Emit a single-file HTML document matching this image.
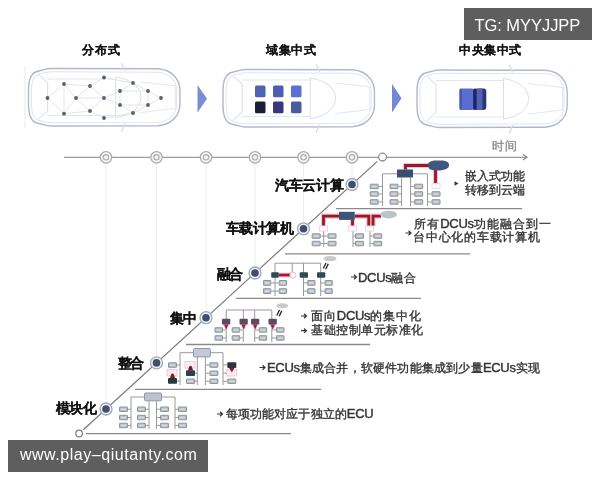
<!DOCTYPE html><html><head><meta charset="utf-8"><style>
html,body{margin:0;padding:0;background:#fff;width:600px;height:480px;overflow:hidden;font-family:"Liberation Sans",sans-serif;}
.t{position:absolute;white-space:nowrap;line-height:1;color:#2a2a2a;-webkit-text-stroke:0.35px currentColor;}
.b{font-weight:bold;color:#111;-webkit-text-stroke:0.1px currentColor;}
.w{-webkit-text-stroke:0;}
.lat{font-size:13px;-webkit-text-stroke:0.4px currentColor;letter-spacing:-0.3px;}
#wrap{position:absolute;left:0;top:0;width:600px;height:480px;filter:blur(0.6px);}
</style></head><body><div id="wrap">
<svg width="600" height="480" viewBox="0 0 600 480" style="position:absolute;left:0;top:0">
<line x1="25" y1="66" x2="25" y2="128" stroke="#ededed" stroke-width="1.2"/>
<g transform="translate(28,68) scale(1.0083,1)" fill="none" stroke-linecap="round">
<path d="M0.5,22 C0.5,12 3,6 7.5,4 C10,3 12,2.5 14.5,2 C18,1 19.5,0.5 23,0.5 L129,0.8 C137,1.5 142,4 146,9 C149.5,13 150.7,17 150.7,23 L150.7,35.5 C150.7,41.5 149.5,45.5 146,49.5 C142,54.5 137,57 129,57.7 L23,58 C19.5,58 18,57.5 14.5,56.5 C12,56 10,55.5 7.5,54.5 C3,52.5 0.5,46.5 0.5,36.5 Z" stroke="#b3b7cc" stroke-width="1.4"/>
<path d="M3.5,22 C3.5,13 6,8 10,6.5 C14,5 18,3.8 23,3.8 L129,4.2 C136,4.8 140,7 143.5,11 C146.5,14.5 147.5,18 147.5,23 L147.5,35.5 C147.5,40.5 146.5,44 143.5,47.5 C140,51.5 136,53.8 129,54.4 L23,54.8 C18,54.8 14,53.5 10,52 C6,50.5 3.5,45.5 3.5,36.5 Z" stroke="#e2e4ec" stroke-width="1"/>
<path d="M10.5,7 L19.5,15 L19.5,43 L10.5,51" stroke="#d9dce6" stroke-width="1"/>
<path d="M19.5,11 L87,11 M19.5,47.5 L87,47.5" stroke="#e4e6ee" stroke-width="1"/>
<path d="M87,9 C105,11.5 112,21 112,29.2 C112,37.5 105,47 87,49.5 M87,9 L87,49.5" stroke="#dcdfe8" stroke-width="1"/>
<path d="M112,14 L146,18 M112,44.5 L146,40.5 M146,18 L146,40.5" stroke="#e4e6ee" stroke-width="1"/>
<path d="M93,-4.5 L96,2.5 M93,63.5 L96,56" stroke="#d3dae8" stroke-width="1.2"/>
</g>
<g transform="translate(222.5,69) scale(1.0083,1)" fill="none" stroke-linecap="round">
<path d="M0.5,22 C0.5,12 3,6 7.5,4 C10,3 12,2.5 14.5,2 C18,1 19.5,0.5 23,0.5 L129,0.8 C137,1.5 142,4 146,9 C149.5,13 150.7,17 150.7,23 L150.7,35.5 C150.7,41.5 149.5,45.5 146,49.5 C142,54.5 137,57 129,57.7 L23,58 C19.5,58 18,57.5 14.5,56.5 C12,56 10,55.5 7.5,54.5 C3,52.5 0.5,46.5 0.5,36.5 Z" stroke="#b3b7cc" stroke-width="1.4"/>
<path d="M3.5,22 C3.5,13 6,8 10,6.5 C14,5 18,3.8 23,3.8 L129,4.2 C136,4.8 140,7 143.5,11 C146.5,14.5 147.5,18 147.5,23 L147.5,35.5 C147.5,40.5 146.5,44 143.5,47.5 C140,51.5 136,53.8 129,54.4 L23,54.8 C18,54.8 14,53.5 10,52 C6,50.5 3.5,45.5 3.5,36.5 Z" stroke="#e2e4ec" stroke-width="1"/>
<path d="M10.5,7 L19.5,15 L19.5,43 L10.5,51" stroke="#d9dce6" stroke-width="1"/>
<path d="M19.5,11 L87,11 M19.5,47.5 L87,47.5" stroke="#e4e6ee" stroke-width="1"/>
<path d="M87,9 C105,11.5 112,21 112,29.2 C112,37.5 105,47 87,49.5 M87,9 L87,49.5" stroke="#dcdfe8" stroke-width="1"/>
<path d="M112,14 L146,18 M112,44.5 L146,40.5 M146,18 L146,40.5" stroke="#e4e6ee" stroke-width="1"/>
<path d="M93,-4.5 L96,2.5 M93,63.5 L96,56" stroke="#d3dae8" stroke-width="1.2"/>
</g>
<g transform="translate(416.5,69.5) scale(1.0,1)" fill="none" stroke-linecap="round">
<path d="M0.5,22 C0.5,12 3,6 7.5,4 C10,3 12,2.5 14.5,2 C18,1 19.5,0.5 23,0.5 L129,0.8 C137,1.5 142,4 146,9 C149.5,13 150.7,17 150.7,23 L150.7,35.5 C150.7,41.5 149.5,45.5 146,49.5 C142,54.5 137,57 129,57.7 L23,58 C19.5,58 18,57.5 14.5,56.5 C12,56 10,55.5 7.5,54.5 C3,52.5 0.5,46.5 0.5,36.5 Z" stroke="#b3b7cc" stroke-width="1.4"/>
<path d="M3.5,22 C3.5,13 6,8 10,6.5 C14,5 18,3.8 23,3.8 L129,4.2 C136,4.8 140,7 143.5,11 C146.5,14.5 147.5,18 147.5,23 L147.5,35.5 C147.5,40.5 146.5,44 143.5,47.5 C140,51.5 136,53.8 129,54.4 L23,54.8 C18,54.8 14,53.5 10,52 C6,50.5 3.5,45.5 3.5,36.5 Z" stroke="#e2e4ec" stroke-width="1"/>
<path d="M10.5,7 L19.5,15 L19.5,43 L10.5,51" stroke="#d9dce6" stroke-width="1"/>
<path d="M19.5,11 L87,11 M19.5,47.5 L87,47.5" stroke="#e4e6ee" stroke-width="1"/>
<path d="M87,9 C105,11.5 112,21 112,29.2 C112,37.5 105,47 87,49.5 M87,9 L87,49.5" stroke="#dcdfe8" stroke-width="1"/>
<path d="M112,14 L146,18 M112,44.5 L146,40.5 M146,18 L146,40.5" stroke="#e4e6ee" stroke-width="1"/>
<path d="M93,-4.5 L96,2.5 M93,63.5 L96,56" stroke="#d3dae8" stroke-width="1.2"/>
</g>
<line x1="47.5" y1="98" x2="64" y2="84" stroke="#dfe1e8" stroke-width="0.9"/>
<line x1="47.5" y1="98" x2="64" y2="113.7" stroke="#dfe1e8" stroke-width="0.9"/>
<line x1="64" y1="84" x2="64" y2="113.7" stroke="#dfe1e8" stroke-width="0.9"/>
<line x1="64" y1="84" x2="76" y2="98" stroke="#dfe1e8" stroke-width="0.9"/>
<line x1="64" y1="113.7" x2="76" y2="98" stroke="#dfe1e8" stroke-width="0.9"/>
<line x1="64" y1="84" x2="90" y2="86" stroke="#dfe1e8" stroke-width="0.9"/>
<line x1="76" y1="98" x2="90" y2="86" stroke="#dfe1e8" stroke-width="0.9"/>
<line x1="76" y1="98" x2="90" y2="111" stroke="#dfe1e8" stroke-width="0.9"/>
<line x1="64" y1="113.7" x2="90" y2="111" stroke="#dfe1e8" stroke-width="0.9"/>
<line x1="90" y1="86" x2="104" y2="98" stroke="#dfe1e8" stroke-width="0.9"/>
<line x1="90" y1="111" x2="104" y2="98" stroke="#dfe1e8" stroke-width="0.9"/>
<line x1="90" y1="86" x2="104" y2="77.5" stroke="#dfe1e8" stroke-width="0.9"/>
<line x1="90" y1="111" x2="104" y2="118" stroke="#dfe1e8" stroke-width="0.9"/>
<line x1="76" y1="98" x2="104" y2="98" stroke="#dfe1e8" stroke-width="0.9"/>
<line x1="104" y1="77.5" x2="133" y2="83" stroke="#dfe1e8" stroke-width="0.9"/>
<line x1="104" y1="118" x2="133" y2="113" stroke="#dfe1e8" stroke-width="0.9"/>
<line x1="104" y1="98" x2="120" y2="91" stroke="#dfe1e8" stroke-width="0.9"/>
<line x1="104" y1="98" x2="120" y2="105" stroke="#dfe1e8" stroke-width="0.9"/>
<line x1="120" y1="91" x2="133" y2="83" stroke="#dfe1e8" stroke-width="0.9"/>
<line x1="120" y1="105" x2="133" y2="113" stroke="#dfe1e8" stroke-width="0.9"/>
<line x1="133" y1="83" x2="148" y2="91" stroke="#dfe1e8" stroke-width="0.9"/>
<line x1="133" y1="113" x2="148" y2="105" stroke="#dfe1e8" stroke-width="0.9"/>
<line x1="148" y1="91" x2="161" y2="98" stroke="#dfe1e8" stroke-width="0.9"/>
<line x1="148" y1="105" x2="161" y2="98" stroke="#dfe1e8" stroke-width="0.9"/>
<line x1="120" y1="91" x2="148" y2="91" stroke="#dfe1e8" stroke-width="0.9"/>
<line x1="120" y1="105" x2="148" y2="105" stroke="#dfe1e8" stroke-width="0.9"/>
<line x1="120" y1="91" x2="120" y2="105" stroke="#dfe1e8" stroke-width="0.9"/>
<line x1="148" y1="91" x2="148" y2="105" stroke="#dfe1e8" stroke-width="0.9"/>
<circle cx="47.5" cy="98" r="1.9" fill="#5a5d6e"/>
<circle cx="64" cy="84" r="1.9" fill="#5a5d6e"/>
<circle cx="64" cy="113.7" r="1.9" fill="#5a5d6e"/>
<circle cx="76" cy="98" r="1.9" fill="#5a5d6e"/>
<circle cx="90" cy="86" r="1.9" fill="#5a5d6e"/>
<circle cx="90" cy="111" r="1.9" fill="#5a5d6e"/>
<circle cx="104" cy="77.5" r="1.9" fill="#5a5d6e"/>
<circle cx="104" cy="98" r="1.9" fill="#5a5d6e"/>
<circle cx="104" cy="118" r="1.9" fill="#5a5d6e"/>
<circle cx="120" cy="91" r="1.9" fill="#5a5d6e"/>
<circle cx="120" cy="105" r="1.9" fill="#5a5d6e"/>
<circle cx="133" cy="83" r="1.9" fill="#5a5d6e"/>
<circle cx="133" cy="113" r="1.9" fill="#5a5d6e"/>
<circle cx="148" cy="91" r="1.9" fill="#5a5d6e"/>
<circle cx="148" cy="105" r="1.9" fill="#5a5d6e"/>
<circle cx="161" cy="98" r="1.9" fill="#5a5d6e"/>
<rect x="255" y="85.6" width="10.5" height="11.7" rx="1.5" fill="#4f63b4"/>
<rect x="273" y="85.6" width="10.5" height="11.7" rx="1.5" fill="#4b5db6"/>
<rect x="291" y="85.6" width="10.5" height="11.7" rx="1.5" fill="#5a70d4"/>
<rect x="255" y="101.5" width="10.5" height="11.7" rx="1.5" fill="#1c1e34"/>
<rect x="273" y="101.5" width="10.5" height="11.7" rx="1.5" fill="#38377e"/>
<rect x="291" y="101.5" width="10.5" height="11.7" rx="1.5" fill="#4a5aa2"/>
<rect x="459.5" y="88.5" width="15" height="21.5" rx="3" fill="#5a6dd0"/>
<rect x="459.5" y="88.5" width="2.5" height="21.5" rx="1.2" fill="#4658b8"/>
<rect x="476" y="88.5" width="10.3" height="21.5" rx="3" fill="#2c3678"/>
<rect x="476" y="88.5" width="6.5" height="21.5" fill="#5262b2"/>
<rect x="473.2" y="88.5" width="3.4" height="21.5" rx="1.5" fill="#1c2262"/>
<path d="M197.5,85 L207,98.7 L197.5,112.5 Z" fill="#7a8ed8"/>
<path d="M392,84 L401.5,98.3 L392,112.5 Z" fill="#7489d6"/>
<line x1="64" y1="157.3" x2="526" y2="157.3" stroke="#9a9a9a" stroke-width="1.2"/>
<path d="M523,154.6 L527,157.3 L523,160" fill="none" stroke="#888" stroke-width="1.2"/>
<line x1="106" y1="163" x2="106" y2="402.0" stroke="#ededed" stroke-width="1"/>
<line x1="156.5" y1="163" x2="156.5" y2="355.9" stroke="#ededed" stroke-width="1"/>
<line x1="206" y1="163" x2="206" y2="310.7" stroke="#ededed" stroke-width="1"/>
<line x1="255" y1="163" x2="255" y2="266.0" stroke="#ededed" stroke-width="1"/>
<line x1="303.5" y1="163" x2="303.5" y2="221.8" stroke="#ededed" stroke-width="1"/>
<line x1="352" y1="163" x2="352" y2="177.5" stroke="#ededed" stroke-width="1"/>
<circle cx="106" cy="157.3" r="5.7" fill="#f6f6f6" stroke="#ababab" stroke-width="1.25"/>
<circle cx="106" cy="157.3" r="2.7" fill="#f2f2f2" stroke="#acacac" stroke-width="1.15"/>
<circle cx="156.5" cy="157.3" r="5.7" fill="#f6f6f6" stroke="#ababab" stroke-width="1.25"/>
<circle cx="156.5" cy="157.3" r="2.7" fill="#f2f2f2" stroke="#acacac" stroke-width="1.15"/>
<circle cx="206" cy="157.3" r="5.7" fill="#f6f6f6" stroke="#ababab" stroke-width="1.25"/>
<circle cx="206" cy="157.3" r="2.7" fill="#f2f2f2" stroke="#acacac" stroke-width="1.15"/>
<circle cx="255" cy="157.3" r="5.7" fill="#f6f6f6" stroke="#ababab" stroke-width="1.25"/>
<circle cx="255" cy="157.3" r="2.7" fill="#f2f2f2" stroke="#acacac" stroke-width="1.15"/>
<circle cx="303.5" cy="157.3" r="5.7" fill="#f6f6f6" stroke="#ababab" stroke-width="1.25"/>
<circle cx="303.5" cy="157.3" r="2.7" fill="#f2f2f2" stroke="#acacac" stroke-width="1.15"/>
<circle cx="352" cy="157.3" r="5.7" fill="#f6f6f6" stroke="#ababab" stroke-width="1.25"/>
<circle cx="352" cy="157.3" r="2.7" fill="#f2f2f2" stroke="#acacac" stroke-width="1.15"/>
<line x1="83.3" y1="429.72" x2="377.3" y2="161.41" stroke="#7a7a7a" stroke-width="1.2"/>
<circle cx="382.5" cy="157.1" r="3.9" fill="#fff" stroke="#8a8a8a" stroke-width="1.3"/>
<circle cx="79.1" cy="433.5" r="3.3" fill="#fff" stroke="#808080" stroke-width="1.3"/>
<circle cx="106" cy="409.0" r="6.0" fill="#eef1f6" stroke="#a2aaba" stroke-width="1.3"/>
<circle cx="106" cy="409.0" r="3.8" fill="#434e6c"/>
<circle cx="156.5" cy="362.9" r="6.0" fill="#eef1f6" stroke="#a2aaba" stroke-width="1.3"/>
<circle cx="156.5" cy="362.9" r="3.8" fill="#434e6c"/>
<circle cx="206" cy="317.7" r="6.0" fill="#eef1f6" stroke="#a2aaba" stroke-width="1.3"/>
<circle cx="206" cy="317.7" r="3.8" fill="#434e6c"/>
<circle cx="255" cy="273.0" r="6.0" fill="#eef1f6" stroke="#a2aaba" stroke-width="1.3"/>
<circle cx="255" cy="273.0" r="3.8" fill="#434e6c"/>
<circle cx="303.5" cy="228.8" r="6.0" fill="#eef1f6" stroke="#a2aaba" stroke-width="1.3"/>
<circle cx="303.5" cy="228.8" r="3.8" fill="#434e6c"/>
<circle cx="352" cy="184.5" r="6.0" fill="#eef1f6" stroke="#a2aaba" stroke-width="1.3"/>
<circle cx="352" cy="184.5" r="3.8" fill="#434e6c"/>
<line x1="336" y1="208.6" x2="522" y2="208.6" stroke="#8a8a8a" stroke-width="1.3"/>
<line x1="285" y1="253.8" x2="470" y2="253.8" stroke="#8a8a8a" stroke-width="1.3"/>
<line x1="236" y1="298.4" x2="421" y2="298.4" stroke="#8a8a8a" stroke-width="1.3"/>
<line x1="186" y1="344.5" x2="370" y2="344.5" stroke="#8a8a8a" stroke-width="1.3"/>
<line x1="135" y1="389.3" x2="321" y2="389.3" stroke="#8a8a8a" stroke-width="1.3"/>
<line x1="86" y1="433.6" x2="291" y2="433.6" stroke="#8a8a8a" stroke-width="1.3"/>
<rect x="144.5" y="393" width="17" height="7.8" rx="1" fill="#bcc3ce" stroke="#8e98a6" stroke-width="1"/>
<line x1="131" y1="397" x2="144.5" y2="397" stroke="#999999" stroke-width="1"/>
<line x1="161.5" y1="397" x2="175" y2="397" stroke="#999999" stroke-width="1"/>
<line x1="131" y1="397" x2="131" y2="429" stroke="#999999" stroke-width="1"/>
<line x1="175" y1="397" x2="175" y2="429" stroke="#999999" stroke-width="1"/>
<line x1="149" y1="401" x2="149" y2="429" stroke="#999999" stroke-width="1"/>
<line x1="156.5" y1="401" x2="156.5" y2="429" stroke="#999999" stroke-width="1"/>
<rect x="119.5" y="407.0" width="8.0" height="4.5" rx="0.3" fill="#b9bfc6" stroke="#90969d" stroke-width="1"/>
<rect x="121.0" y="408.5" width="5.0" height="1.5" fill="#d6dadf"/>
<line x1="128" y1="409.25" x2="131" y2="409.25" stroke="#999999" stroke-width="1"/>
<rect x="119.5" y="415.3" width="8.0" height="4.5" rx="0.3" fill="#b9bfc6" stroke="#90969d" stroke-width="1"/>
<rect x="121.0" y="416.8" width="5.0" height="1.5" fill="#d6dadf"/>
<line x1="128" y1="417.55" x2="131" y2="417.55" stroke="#999999" stroke-width="1"/>
<rect x="119.5" y="423.2" width="8.0" height="4.5" rx="0.3" fill="#b9bfc6" stroke="#90969d" stroke-width="1"/>
<rect x="121.0" y="424.7" width="5.0" height="1.5" fill="#d6dadf"/>
<line x1="128" y1="425.45" x2="131" y2="425.45" stroke="#999999" stroke-width="1"/>
<rect x="137.5" y="407.0" width="8.0" height="4.5" rx="0.3" fill="#b9bfc6" stroke="#90969d" stroke-width="1"/>
<rect x="139.0" y="408.5" width="5.0" height="1.5" fill="#d6dadf"/>
<line x1="146" y1="409.25" x2="149" y2="409.25" stroke="#999999" stroke-width="1"/>
<rect x="137.5" y="415.3" width="8.0" height="4.5" rx="0.3" fill="#b9bfc6" stroke="#90969d" stroke-width="1"/>
<rect x="139.0" y="416.8" width="5.0" height="1.5" fill="#d6dadf"/>
<line x1="146" y1="417.55" x2="149" y2="417.55" stroke="#999999" stroke-width="1"/>
<rect x="137.5" y="423.2" width="8.0" height="4.5" rx="0.3" fill="#b9bfc6" stroke="#90969d" stroke-width="1"/>
<rect x="139.0" y="424.7" width="5.0" height="1.5" fill="#d6dadf"/>
<line x1="146" y1="425.45" x2="149" y2="425.45" stroke="#999999" stroke-width="1"/>
<rect x="160.5" y="407.0" width="8.0" height="4.5" rx="0.3" fill="#b9bfc6" stroke="#90969d" stroke-width="1"/>
<rect x="162.0" y="408.5" width="5.0" height="1.5" fill="#d6dadf"/>
<line x1="156.5" y1="409.25" x2="160" y2="409.25" stroke="#999999" stroke-width="1"/>
<rect x="160.5" y="415.3" width="8.0" height="4.5" rx="0.3" fill="#b9bfc6" stroke="#90969d" stroke-width="1"/>
<rect x="162.0" y="416.8" width="5.0" height="1.5" fill="#d6dadf"/>
<line x1="156.5" y1="417.55" x2="160" y2="417.55" stroke="#999999" stroke-width="1"/>
<rect x="160.5" y="423.2" width="8.0" height="4.5" rx="0.3" fill="#b9bfc6" stroke="#90969d" stroke-width="1"/>
<rect x="162.0" y="424.7" width="5.0" height="1.5" fill="#d6dadf"/>
<line x1="156.5" y1="425.45" x2="160" y2="425.45" stroke="#999999" stroke-width="1"/>
<rect x="178.5" y="407.0" width="8.0" height="4.5" rx="0.3" fill="#b9bfc6" stroke="#90969d" stroke-width="1"/>
<rect x="180.0" y="408.5" width="5.0" height="1.5" fill="#d6dadf"/>
<line x1="175" y1="409.25" x2="178" y2="409.25" stroke="#999999" stroke-width="1"/>
<rect x="178.5" y="415.3" width="8.0" height="4.5" rx="0.3" fill="#b9bfc6" stroke="#90969d" stroke-width="1"/>
<rect x="180.0" y="416.8" width="5.0" height="1.5" fill="#d6dadf"/>
<line x1="175" y1="417.55" x2="178" y2="417.55" stroke="#999999" stroke-width="1"/>
<rect x="178.5" y="423.2" width="8.0" height="4.5" rx="0.3" fill="#b9bfc6" stroke="#90969d" stroke-width="1"/>
<rect x="180.0" y="424.7" width="5.0" height="1.5" fill="#d6dadf"/>
<line x1="175" y1="425.45" x2="178" y2="425.45" stroke="#999999" stroke-width="1"/>
<rect x="193.5" y="348.5" width="16.8" height="8.4" rx="1" fill="#c3c9da" stroke="#9098b2" stroke-width="1"/>
<line x1="180" y1="352.7" x2="193.5" y2="352.7" stroke="#999999" stroke-width="1"/>
<line x1="210" y1="352.7" x2="223" y2="352.7" stroke="#999999" stroke-width="1"/>
<line x1="180" y1="352.7" x2="180" y2="385" stroke="#999999" stroke-width="1"/>
<line x1="223" y1="352.7" x2="223" y2="385" stroke="#999999" stroke-width="1"/>
<line x1="197.3" y1="357" x2="197.3" y2="385" stroke="#999999" stroke-width="1"/>
<line x1="205.4" y1="357" x2="205.4" y2="385" stroke="#999999" stroke-width="1"/>
<rect x="168.5" y="362.8" width="8.0" height="4.5" rx="0.3" fill="#b9bfc6" stroke="#90969d" stroke-width="1"/>
<rect x="170.0" y="364.3" width="5.0" height="1.5" fill="#d6dadf"/>
<line x1="177" y1="365.05" x2="180" y2="365.05" stroke="#999999" stroke-width="1"/>
<rect x="186.5" y="379.0" width="8.0" height="4.5" rx="0.3" fill="#b9bfc6" stroke="#90969d" stroke-width="1"/>
<rect x="188.0" y="380.5" width="5.0" height="1.5" fill="#d6dadf"/>
<line x1="195" y1="381.25" x2="197.3" y2="381.25" stroke="#999999" stroke-width="1"/>
<rect x="209.9" y="362.8" width="8.0" height="4.5" rx="0.3" fill="#b9bfc6" stroke="#90969d" stroke-width="1"/>
<rect x="211.4" y="364.3" width="5.0" height="1.5" fill="#d6dadf"/>
<line x1="205.4" y1="365.05" x2="209.4" y2="365.05" stroke="#999999" stroke-width="1"/>
<rect x="209.9" y="371.0" width="8.0" height="4.5" rx="0.3" fill="#b9bfc6" stroke="#90969d" stroke-width="1"/>
<rect x="211.4" y="372.5" width="5.0" height="1.5" fill="#d6dadf"/>
<line x1="205.4" y1="373.25" x2="209.4" y2="373.25" stroke="#999999" stroke-width="1"/>
<rect x="209.9" y="379.0" width="8.0" height="4.5" rx="0.3" fill="#b9bfc6" stroke="#90969d" stroke-width="1"/>
<rect x="211.4" y="380.5" width="5.0" height="1.5" fill="#d6dadf"/>
<line x1="205.4" y1="381.25" x2="209.4" y2="381.25" stroke="#999999" stroke-width="1"/>
<rect x="227.8" y="379.0" width="8.0" height="4.5" rx="0.3" fill="#b9bfc6" stroke="#90969d" stroke-width="1"/>
<rect x="229.3" y="380.5" width="5.0" height="1.5" fill="#d6dadf"/>
<line x1="223" y1="381.25" x2="227.3" y2="381.25" stroke="#999999" stroke-width="1"/>
<rect x="167" y="369.5" width="10" height="6.5" fill="#fbeef2" stroke="#f0c0cc" stroke-width="0.8"/>
<rect x="168" y="378" width="9" height="5.8" rx="1" fill="#25383a"/>
<path d="M170,378.2 C170.5,375.5 171.2,373.4 172.5,373.4 C173.8,373.4 174.5,375.5 175,378.2 Z" fill="#7a1830"/>
<line x1="177" y1="381" x2="180.3" y2="381" stroke="#999999" stroke-width="1"/>
<rect x="185" y="361.5" width="10" height="6.5" fill="#fbeef2" stroke="#f0c0cc" stroke-width="0.8"/>
<rect x="186" y="370.3" width="9" height="5.8" rx="1" fill="#2a4058"/>
<path d="M188,370.5 C188.5,367.8 189.2,365.7 190.5,365.7 C191.8,365.7 192.5,367.8 193,370.5 Z" fill="#7a1830"/>
<line x1="195" y1="373.2" x2="197.3" y2="373.2" stroke="#999999" stroke-width="1"/>
<rect x="226.8" y="369.5" width="10" height="6.5" fill="#fbeef2" stroke="#f0c0cc" stroke-width="0.8"/>
<rect x="227.3" y="362.2" width="9" height="5.8" rx="1" fill="#30333d"/>
<path d="M229,367.8 L231.8,372.5 L234.6,367.8 Z" fill="#8a1a35"/>
<line x1="223" y1="365" x2="227.3" y2="365" stroke="#999999" stroke-width="1"/>
<line x1="223" y1="373.2" x2="226.8" y2="373.2" stroke="#999999" stroke-width="1"/>
<line x1="226.2" y1="310" x2="271.8" y2="310" stroke="#999999" stroke-width="1"/>
<line x1="226.2" y1="310" x2="226.2" y2="342" stroke="#999999" stroke-width="1"/>
<line x1="243.3" y1="310" x2="243.3" y2="342" stroke="#999999" stroke-width="1"/>
<line x1="254.7" y1="310" x2="254.7" y2="342" stroke="#999999" stroke-width="1"/>
<line x1="271.8" y1="310" x2="271.8" y2="342" stroke="#999999" stroke-width="1"/>
<rect x="215.0" y="327.7" width="7.5" height="4.5" rx="0.3" fill="#b9bfc6" stroke="#90969d" stroke-width="1"/>
<rect x="216.5" y="329.2" width="4.5" height="1.5" fill="#d6dadf"/>
<line x1="223.0" y1="329.95" x2="226.2" y2="329.95" stroke="#999999" stroke-width="1"/>
<rect x="215.0" y="335.7" width="7.5" height="4.5" rx="0.3" fill="#b9bfc6" stroke="#90969d" stroke-width="1"/>
<rect x="216.5" y="337.2" width="4.5" height="1.5" fill="#d6dadf"/>
<line x1="223.0" y1="337.95" x2="226.2" y2="337.95" stroke="#999999" stroke-width="1"/>
<rect x="232.2" y="327.7" width="7.5" height="4.5" rx="0.3" fill="#b9bfc6" stroke="#90969d" stroke-width="1"/>
<rect x="233.7" y="329.2" width="4.5" height="1.5" fill="#d6dadf"/>
<line x1="240.2" y1="329.95" x2="243.3" y2="329.95" stroke="#999999" stroke-width="1"/>
<rect x="232.2" y="335.7" width="7.5" height="4.5" rx="0.3" fill="#b9bfc6" stroke="#90969d" stroke-width="1"/>
<rect x="233.7" y="337.2" width="4.5" height="1.5" fill="#d6dadf"/>
<line x1="240.2" y1="337.95" x2="243.3" y2="337.95" stroke="#999999" stroke-width="1"/>
<rect x="259.2" y="327.7" width="7.5" height="4.5" rx="0.3" fill="#b9bfc6" stroke="#90969d" stroke-width="1"/>
<rect x="260.7" y="329.2" width="4.5" height="1.5" fill="#d6dadf"/>
<line x1="254.7" y1="329.95" x2="258.7" y2="329.95" stroke="#999999" stroke-width="1"/>
<rect x="259.2" y="335.7" width="7.5" height="4.5" rx="0.3" fill="#b9bfc6" stroke="#90969d" stroke-width="1"/>
<rect x="260.7" y="337.2" width="4.5" height="1.5" fill="#d6dadf"/>
<line x1="254.7" y1="337.95" x2="258.7" y2="337.95" stroke="#999999" stroke-width="1"/>
<rect x="276.5" y="327.7" width="7.5" height="4.5" rx="0.3" fill="#b9bfc6" stroke="#90969d" stroke-width="1"/>
<rect x="278.0" y="329.2" width="4.5" height="1.5" fill="#d6dadf"/>
<line x1="271.8" y1="329.95" x2="276" y2="329.95" stroke="#999999" stroke-width="1"/>
<rect x="276.5" y="335.7" width="7.5" height="4.5" rx="0.3" fill="#b9bfc6" stroke="#90969d" stroke-width="1"/>
<rect x="278.0" y="337.2" width="4.5" height="1.5" fill="#d6dadf"/>
<line x1="271.8" y1="337.95" x2="276" y2="337.95" stroke="#999999" stroke-width="1"/>
<path d="M222.5,324 L226.2,331 L229.8,324 Z" fill="#f4cfda"/>
<rect x="222" y="318.8" width="8.3" height="5.8" rx="1" fill="#5e4b62"/>
<path d="M224,324.4 L226.2,329.8 L228.3,324.4 Z" fill="#9c2348"/>
<path d="M240.0,324 L243.7,331 L247.3,324 Z" fill="#f4cfda"/>
<rect x="239.5" y="318.8" width="8.3" height="5.8" rx="1" fill="#5e4b62"/>
<path d="M241.5,324.4 L243.7,329.8 L245.8,324.4 Z" fill="#9c2348"/>
<path d="M251.5,324 L255.2,331 L258.8,324 Z" fill="#f4cfda"/>
<rect x="251" y="318.8" width="8.3" height="5.8" rx="1" fill="#5e4b62"/>
<path d="M253,324.4 L255.2,329.8 L257.3,324.4 Z" fill="#9c2348"/>
<path d="M269.0,324 L272.7,331 L276.3,324 Z" fill="#f4cfda"/>
<rect x="268.5" y="318.8" width="8.3" height="5.8" rx="1" fill="#5e4b62"/>
<path d="M270.5,324.4 L272.7,329.8 L274.8,324.4 Z" fill="#9c2348"/>
<ellipse cx="282.3" cy="305.7" rx="5.8" ry="2.4" fill="#c9c9cc"/>
<path d="M279.5,310 L276.8,315.5 M281.8,310.8 L279.2,316.3" fill="none" stroke="#2a2a2a" stroke-width="1.4"/>
<line x1="275" y1="263.2" x2="320.7" y2="263.2" stroke="#999999" stroke-width="1"/>
<line x1="275" y1="263.2" x2="275" y2="296" stroke="#999999" stroke-width="1"/>
<line x1="303.5" y1="263.2" x2="303.5" y2="296" stroke="#999999" stroke-width="1"/>
<line x1="320.7" y1="263.2" x2="320.7" y2="296" stroke="#999999" stroke-width="1"/>
<line x1="292.2" y1="263.2" x2="292.2" y2="272" stroke="#999999" stroke-width="1"/>
<rect x="263.5" y="280.5" width="7.3" height="4.8" rx="0.3" fill="#b9bfc6" stroke="#90969d" stroke-width="1"/>
<rect x="265.0" y="282.0" width="4.3" height="1.8" fill="#d6dadf"/>
<line x1="271.3" y1="282.9" x2="275" y2="282.9" stroke="#999999" stroke-width="1"/>
<rect x="263.5" y="288.7" width="7.3" height="4.8" rx="0.3" fill="#b9bfc6" stroke="#90969d" stroke-width="1"/>
<rect x="265.0" y="290.2" width="4.3" height="1.8" fill="#d6dadf"/>
<line x1="271.3" y1="291.09999999999997" x2="275" y2="291.09999999999997" stroke="#999999" stroke-width="1"/>
<rect x="279.2" y="280.5" width="7.3" height="4.8" rx="0.3" fill="#b9bfc6" stroke="#90969d" stroke-width="1"/>
<rect x="280.7" y="282.0" width="4.3" height="1.8" fill="#d6dadf"/>
<line x1="275" y1="282.9" x2="278.7" y2="282.9" stroke="#999999" stroke-width="1"/>
<rect x="279.2" y="288.7" width="7.3" height="4.8" rx="0.3" fill="#b9bfc6" stroke="#90969d" stroke-width="1"/>
<rect x="280.7" y="290.2" width="4.3" height="1.8" fill="#d6dadf"/>
<line x1="275" y1="291.09999999999997" x2="278.7" y2="291.09999999999997" stroke="#999999" stroke-width="1"/>
<rect x="307.7" y="280.5" width="7.3" height="4.8" rx="0.3" fill="#b9bfc6" stroke="#90969d" stroke-width="1"/>
<rect x="309.2" y="282.0" width="4.3" height="1.8" fill="#d6dadf"/>
<line x1="303.5" y1="282.9" x2="307.2" y2="282.9" stroke="#999999" stroke-width="1"/>
<rect x="307.7" y="288.7" width="7.3" height="4.8" rx="0.3" fill="#b9bfc6" stroke="#90969d" stroke-width="1"/>
<rect x="309.2" y="290.2" width="4.3" height="1.8" fill="#d6dadf"/>
<line x1="303.5" y1="291.09999999999997" x2="307.2" y2="291.09999999999997" stroke="#999999" stroke-width="1"/>
<rect x="325.0" y="280.5" width="7.3" height="4.8" rx="0.3" fill="#b9bfc6" stroke="#90969d" stroke-width="1"/>
<rect x="326.5" y="282.0" width="4.3" height="1.8" fill="#d6dadf"/>
<line x1="320.7" y1="282.9" x2="324.5" y2="282.9" stroke="#999999" stroke-width="1"/>
<rect x="325.0" y="288.7" width="7.3" height="4.8" rx="0.3" fill="#b9bfc6" stroke="#90969d" stroke-width="1"/>
<rect x="326.5" y="290.2" width="4.3" height="1.8" fill="#d6dadf"/>
<line x1="320.7" y1="291.09999999999997" x2="324.5" y2="291.09999999999997" stroke="#999999" stroke-width="1"/>
<rect x="278" y="272.5" width="13" height="5" fill="#f5d0da"/>
<line x1="278.7" y1="275" x2="290" y2="275" stroke="#a81a32" stroke-width="2.8"/>
<rect x="271.2" y="272.2" width="7.5" height="5.6" rx="1" fill="#2d4a56"/>
<rect x="290" y="272.3" width="6" height="5.5" rx="2.5" fill="#fff" stroke="#e6b5c2" stroke-width="1"/>
<rect x="299.7" y="272.2" width="8.3" height="5.6" rx="1" fill="#2d4a56"/>
<rect x="317" y="272.2" width="8.3" height="5.6" rx="1" fill="#2d4a56"/>
<ellipse cx="330" cy="258.6" rx="6.4" ry="2.6" fill="#c9c9cc"/>
<path d="M326,263 L323.3,268.5 M328.3,263.8 L325.7,269.3" fill="none" stroke="#2a2a2a" stroke-width="1.4"/>
<line x1="323.7" y1="231" x2="323.7" y2="247" stroke="#999999" stroke-width="1"/>
<line x1="353" y1="231" x2="353" y2="247" stroke="#999999" stroke-width="1"/>
<line x1="370" y1="231" x2="370" y2="247" stroke="#999999" stroke-width="1"/>
<rect x="312.2" y="233.8" width="8.0" height="4.5" rx="0.3" fill="#b9bfc6" stroke="#90969d" stroke-width="1"/>
<rect x="313.7" y="235.3" width="5.0" height="1.5" fill="#d6dadf"/>
<line x1="320.7" y1="236.05" x2="323.7" y2="236.05" stroke="#999999" stroke-width="1"/>
<rect x="312.2" y="241.3" width="8.0" height="4.5" rx="0.3" fill="#b9bfc6" stroke="#90969d" stroke-width="1"/>
<rect x="313.7" y="242.8" width="5.0" height="1.5" fill="#d6dadf"/>
<line x1="320.7" y1="243.55" x2="323.7" y2="243.55" stroke="#999999" stroke-width="1"/>
<rect x="328.0" y="233.8" width="8.0" height="4.5" rx="0.3" fill="#b9bfc6" stroke="#90969d" stroke-width="1"/>
<rect x="329.5" y="235.3" width="5.0" height="1.5" fill="#d6dadf"/>
<line x1="323.7" y1="236.05" x2="327.5" y2="236.05" stroke="#999999" stroke-width="1"/>
<rect x="328.0" y="241.3" width="8.0" height="4.5" rx="0.3" fill="#b9bfc6" stroke="#90969d" stroke-width="1"/>
<rect x="329.5" y="242.8" width="5.0" height="1.5" fill="#d6dadf"/>
<line x1="323.7" y1="243.55" x2="327.5" y2="243.55" stroke="#999999" stroke-width="1"/>
<rect x="355.5" y="233.8" width="8.0" height="4.5" rx="0.3" fill="#b9bfc6" stroke="#90969d" stroke-width="1"/>
<rect x="357.0" y="235.3" width="5.0" height="1.5" fill="#d6dadf"/>
<line x1="353" y1="236.05" x2="355" y2="236.05" stroke="#999999" stroke-width="1"/>
<rect x="355.5" y="241.3" width="8.0" height="4.5" rx="0.3" fill="#b9bfc6" stroke="#90969d" stroke-width="1"/>
<rect x="357.0" y="242.8" width="5.0" height="1.5" fill="#d6dadf"/>
<line x1="353" y1="243.55" x2="355" y2="243.55" stroke="#999999" stroke-width="1"/>
<rect x="373.8" y="233.8" width="8.0" height="4.5" rx="0.3" fill="#b9bfc6" stroke="#90969d" stroke-width="1"/>
<rect x="375.3" y="235.3" width="5.0" height="1.5" fill="#d6dadf"/>
<line x1="370" y1="236.05" x2="373.3" y2="236.05" stroke="#999999" stroke-width="1"/>
<rect x="373.8" y="241.3" width="8.0" height="4.5" rx="0.3" fill="#b9bfc6" stroke="#90969d" stroke-width="1"/>
<rect x="375.3" y="242.8" width="5.0" height="1.5" fill="#d6dadf"/>
<line x1="370" y1="243.55" x2="373.3" y2="243.55" stroke="#999999" stroke-width="1"/>
<path d="M323.5,226 V216.2 H339 M354.7,216.2 H368.8 V226 M352.5,219.8 V226 M373,226 V216.2 H381" fill="none" stroke="#f3c2cc" stroke-width="5.2"/>
<path d="M323.5,226 V216.2 H339 M354.7,216.2 H368.8 V226 M352.5,219.8 V226 M373,226 V216.2 H381" fill="none" stroke="#961a2a" stroke-width="2.8"/>
<rect x="339" y="211.8" width="15.7" height="8.1" fill="#3a5578"/>
<ellipse cx="388.5" cy="214.6" rx="8.5" ry="3.9" fill="#bcc3cb"/>
<rect x="319.5" y="226" width="8" height="5" fill="#fff" stroke="#f0d4da" stroke-width="1"/>
<rect x="348.5" y="226" width="8" height="5" fill="#fff" stroke="#f0d4da" stroke-width="1"/>
<rect x="365.5" y="226" width="8" height="5" fill="#fff" stroke="#f0d4da" stroke-width="1"/>
<line x1="382.5" y1="173.8" x2="397" y2="173.8" stroke="#999999" stroke-width="1"/>
<line x1="413" y1="173.8" x2="427.5" y2="173.8" stroke="#999999" stroke-width="1"/>
<line x1="382.5" y1="173.8" x2="382.5" y2="206" stroke="#999999" stroke-width="1"/>
<line x1="401.5" y1="177.5" x2="401.5" y2="206" stroke="#999999" stroke-width="1"/>
<line x1="410.5" y1="177.5" x2="410.5" y2="206" stroke="#999999" stroke-width="1"/>
<line x1="427.5" y1="173.8" x2="427.5" y2="206" stroke="#999999" stroke-width="1"/>
<rect x="370.2" y="184.2" width="8.0" height="4.5" rx="0.3" fill="#b9bfc6" stroke="#90969d" stroke-width="1"/>
<rect x="371.7" y="185.7" width="5.0" height="1.5" fill="#d6dadf"/>
<line x1="378.7" y1="186.45" x2="382.5" y2="186.45" stroke="#999999" stroke-width="1"/>
<rect x="370.2" y="191.7" width="8.0" height="4.5" rx="0.3" fill="#b9bfc6" stroke="#90969d" stroke-width="1"/>
<rect x="371.7" y="193.2" width="5.0" height="1.5" fill="#d6dadf"/>
<line x1="378.7" y1="193.95" x2="382.5" y2="193.95" stroke="#999999" stroke-width="1"/>
<rect x="370.2" y="199.7" width="8.0" height="4.5" rx="0.3" fill="#b9bfc6" stroke="#90969d" stroke-width="1"/>
<rect x="371.7" y="201.2" width="5.0" height="1.5" fill="#d6dadf"/>
<line x1="378.7" y1="201.95" x2="382.5" y2="201.95" stroke="#999999" stroke-width="1"/>
<rect x="390.0" y="184.2" width="8.0" height="4.5" rx="0.3" fill="#b9bfc6" stroke="#90969d" stroke-width="1"/>
<rect x="391.5" y="185.7" width="5.0" height="1.5" fill="#d6dadf"/>
<line x1="398.5" y1="186.45" x2="401.5" y2="186.45" stroke="#999999" stroke-width="1"/>
<rect x="390.0" y="191.7" width="8.0" height="4.5" rx="0.3" fill="#b9bfc6" stroke="#90969d" stroke-width="1"/>
<rect x="391.5" y="193.2" width="5.0" height="1.5" fill="#d6dadf"/>
<line x1="398.5" y1="193.95" x2="401.5" y2="193.95" stroke="#999999" stroke-width="1"/>
<rect x="390.0" y="199.7" width="8.0" height="4.5" rx="0.3" fill="#b9bfc6" stroke="#90969d" stroke-width="1"/>
<rect x="391.5" y="201.2" width="5.0" height="1.5" fill="#d6dadf"/>
<line x1="398.5" y1="201.95" x2="401.5" y2="201.95" stroke="#999999" stroke-width="1"/>
<rect x="414.7" y="184.2" width="8.0" height="4.5" rx="0.3" fill="#b9bfc6" stroke="#90969d" stroke-width="1"/>
<rect x="416.2" y="185.7" width="5.0" height="1.5" fill="#d6dadf"/>
<line x1="410.5" y1="186.45" x2="414.2" y2="186.45" stroke="#999999" stroke-width="1"/>
<rect x="414.7" y="191.7" width="8.0" height="4.5" rx="0.3" fill="#b9bfc6" stroke="#90969d" stroke-width="1"/>
<rect x="416.2" y="193.2" width="5.0" height="1.5" fill="#d6dadf"/>
<line x1="410.5" y1="193.95" x2="414.2" y2="193.95" stroke="#999999" stroke-width="1"/>
<rect x="414.7" y="199.7" width="8.0" height="4.5" rx="0.3" fill="#b9bfc6" stroke="#90969d" stroke-width="1"/>
<rect x="416.2" y="201.2" width="5.0" height="1.5" fill="#d6dadf"/>
<line x1="410.5" y1="201.95" x2="414.2" y2="201.95" stroke="#999999" stroke-width="1"/>
<rect x="432.0" y="191.7" width="8.0" height="4.5" rx="0.3" fill="#b9bfc6" stroke="#90969d" stroke-width="1"/>
<rect x="433.5" y="193.2" width="5.0" height="1.5" fill="#d6dadf"/>
<line x1="427.5" y1="193.95" x2="431.5" y2="193.95" stroke="#999999" stroke-width="1"/>
<rect x="432.0" y="199.7" width="8.0" height="4.5" rx="0.3" fill="#b9bfc6" stroke="#90969d" stroke-width="1"/>
<rect x="433.5" y="201.2" width="5.0" height="1.5" fill="#d6dadf"/>
<line x1="427.5" y1="201.95" x2="431.5" y2="201.95" stroke="#999999" stroke-width="1"/>
<path d="M405.5,169.5 V165.5 H428 M435.5,170 V183.5" fill="none" stroke="#f3c2cc" stroke-width="5.2"/>
<path d="M405.5,169.5 V165.5 H428 M435.5,170 V183.5" fill="none" stroke="#961a2a" stroke-width="2.8"/>
<rect x="397" y="169.5" width="16" height="8" fill="#3a5070"/>
<path d="M428,166 C427,161 433,160 439,160.5 C445,160 450,162 449,165.5 C449,169 444,170.5 437,170.5 C431,170.5 428,169 428,166 Z" fill="#40587f"/>
<rect x="432" y="183.5" width="8" height="4.8" fill="#fff" stroke="#eed8de" stroke-width="1"/>
<path d="M454.5,181.3 L458.5,183.5 L454.5,185.7 Z" fill="#333"/>
<path d="M405.5,233 L410.5,233 M408.5,230.8 L411.0,233 L408.5,235.2" fill="none" stroke="#333" stroke-width="1.2"/>
<path d="M351,277 L356,277 M354,274.8 L356.5,277 L354,279.2" fill="none" stroke="#333" stroke-width="1.2"/>
<path d="M301,316 L306,316 M304,313.8 L306.5,316 L304,318.2" fill="none" stroke="#333" stroke-width="1.2"/>
<path d="M301,330.7 L306,330.7 M304,328.5 L306.5,330.7 L304,332.9" fill="none" stroke="#333" stroke-width="1.2"/>
<path d="M259.5,367.5 L264.5,367.5 M262.5,365.3 L265.0,367.5 L262.5,369.7" fill="none" stroke="#333" stroke-width="1.2"/>
<path d="M217,414 L222,414 M220,411.8 L222.5,414 L220,416.2" fill="none" stroke="#333" stroke-width="1.2"/>
</svg>
<div style="position:absolute;left:464px;top:8px;width:128px;height:32px;background:#5e5e5e;"></div>
<div style="position:absolute;left:8px;top:440px;width:200px;height:31.5px;background:#5e5e5e;"></div>
<div id="fbs" class="t b" style="left:82.40px;top:45.10px;font-size:11.5px;letter-spacing:0.700px;color:#111;font-weight:bold;">分布式</div>
<div id="yjzs" class="t b" style="left:266.10px;top:45.10px;font-size:11.5px;letter-spacing:0.633px;color:#111;font-weight:bold;">域集中式</div>
<div id="zyjzs" class="t b" style="left:459.00px;top:45.20px;font-size:11.5px;letter-spacing:0.525px;color:#111;font-weight:bold;">中央集中式</div>
<div id="sj" class="t" style="left:492.00px;top:140.45px;font-size:12px;letter-spacing:0.500px;color:#8c8c8c;">时间</div>
<div id="qcyjs" class="t b" style="left:275.00px;top:177.60px;font-size:14px;letter-spacing:-0.300px;color:#111;font-weight:bold;">汽车云计算</div>
<div id="czjsj" class="t b" style="left:226.00px;top:221.25px;font-size:14px;letter-spacing:-0.625px;color:#111;font-weight:bold;">车载计算机</div>
<div id="rh" class="t b" style="left:217.00px;top:266.50px;font-size:14px;letter-spacing:-2.000px;color:#111;font-weight:bold;">融合</div>
<div id="jz" class="t b" style="left:170.00px;top:311.30px;font-size:14px;letter-spacing:-0.700px;color:#111;font-weight:bold;">集中</div>
<div id="zh" class="t b" style="left:118.00px;top:355.50px;font-size:14px;letter-spacing:-1.700px;color:#111;font-weight:bold;">整合</div>
<div id="mkh" class="t b" style="left:56.00px;top:401.35px;font-size:14px;letter-spacing:-0.650px;color:#111;font-weight:bold;">模块化</div>
<div id="qrs" class="t" style="left:465.00px;top:169.95px;font-size:12px;letter-spacing:0.000px;color:#333;">嵌入式功能</div>
<div id="zy" class="t" style="left:465.00px;top:183.50px;font-size:12px;letter-spacing:0.075px;color:#333;">转移到云端</div>
<div id="syd" class="t" style="left:414.00px;top:216.70px;font-size:12px;letter-spacing:1.100px;color:#333;">所有<span class="lat">DCUs</span>功能融合到一</div>
<div id="tzx" class="t" style="left:413.00px;top:231.00px;font-size:12px;letter-spacing:0.778px;color:#333;">台中心化的车载计算机</div>
<div id="dcu" class="t" style="left:358.00px;top:271.00px;font-size:12px;letter-spacing:0.600px;color:#333;"><span class="lat">DCUs</span>融合</div>
<div id="mx" class="t" style="left:311.30px;top:309.00px;font-size:12px;letter-spacing:0.778px;color:#333;">面向<span class="lat">DCUs</span>的集中化</div>
<div id="jc" class="t" style="left:311.30px;top:324.00px;font-size:12px;letter-spacing:0.500px;color:#333;">基础控制单元标准化</div>
<div id="ecus" class="t" style="left:267.00px;top:360.75px;font-size:12px;letter-spacing:0.208px;color:#333;"><span class="lat">ECUs</span>集成合并，软硬件功能集成到少量<span class="lat">ECUs</span>实现</div>
<div id="mxgn" class="t" style="left:226.00px;top:407.30px;font-size:12px;letter-spacing:0.083px;color:#333;">每项功能对应于独立的<span class="lat">ECU</span></div>
<div id="tg" class="t w" style="left:474.40px;top:16.75px;font-size:16.5px;letter-spacing:-0.040px;color:#fff;">TG: MYYJJPP</div>
<div id="www" class="t w" style="left:19.90px;top:446.80px;font-size:16px;letter-spacing:0.550px;color:#fff;">www.play–qiutanty.com</div>
</div></body></html>
